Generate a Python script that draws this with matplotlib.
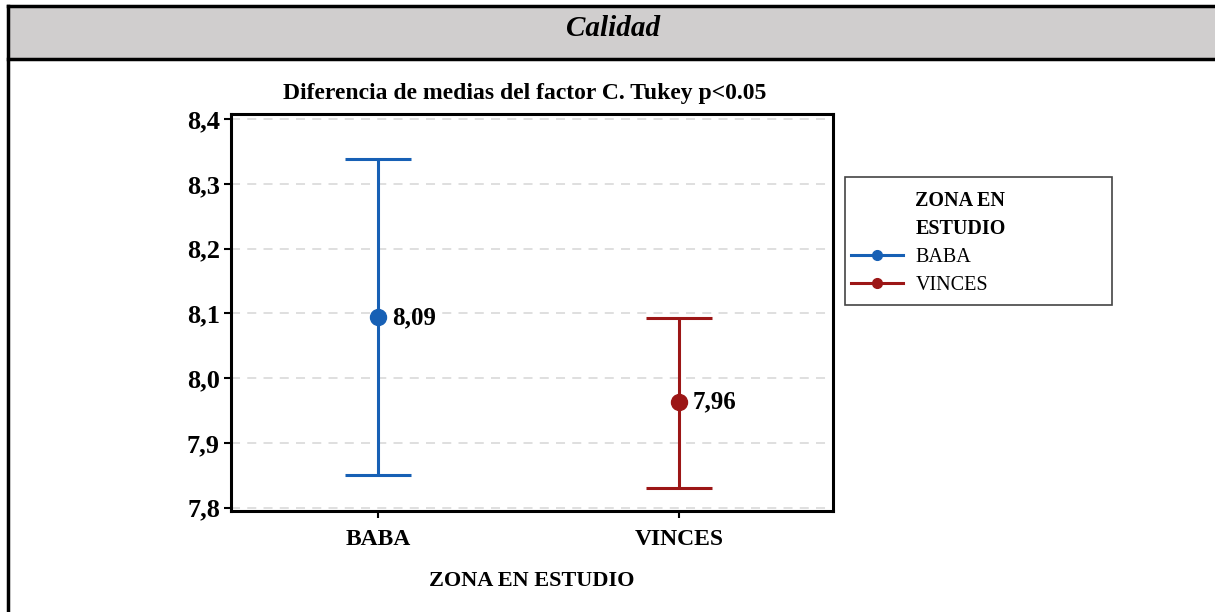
import matplotlib
matplotlib.use("Agg")
import matplotlib.pyplot as plt
from matplotlib.patches import Rectangle
from matplotlib.lines import Line2D
from matplotlib.ticker import FuncFormatter

plt.rcParams['font.family'] = ['Liberation Serif', 'DejaVu Serif']

# datos
zonas = ["BABA", "VINCES"]
medias = [8.094, 7.963]
lim_inf = [7.851, 7.831]
lim_sup = [8.338, 8.093]
colores = ["#1760b5", "#9c1616"]
yticks = [7.8, 7.9, 8.0, 8.1, 8.2, 8.3, 8.4]

fig = plt.figure(figsize=(12.15, 6.12), dpi=100)

# cabecera tipo tabla
W, H = 1215.0, 612.0
fig.patches.append(Rectangle((8/W, 1-59/H), 1-8/W, 53/H, transform=fig.transFigure,
                             facecolor="#d0cece", edgecolor="none", zorder=0))
fig.add_artist(Line2D([8/W, 1], [1-6/H, 1-6/H], color="black", lw=2.5))
fig.add_artist(Line2D([8/W, 1], [1-59/H, 1-59/H], color="black", lw=2.5))
fig.add_artist(Line2D([8/W, 8/W], [0, 1-6/H], color="black", lw=2.5))
fig.text(613/W, 1-29/H, "Calidad", ha="center", va="center", fontsize=21,
         fontweight="bold", fontstyle="italic")

ax = fig.add_axes([231/W, 1-511/H, 602/W, 397/H])
x = list(range(len(zonas)))
for i in x:
    ax.errorbar(i, medias[i],
                yerr=[[medias[i]-lim_inf[i]], [lim_sup[i]-medias[i]]],
                fmt="o", color=colores[i], ms=11.5, lw=2.2, capsize=24,
                capthick=2.2, zorder=3)
    ax.text(i+0.045, medias[i], ("%.2f" % medias[i]).replace(".", ","),
            ha="left", va="center", fontsize=18, fontweight="bold")

ax.set_xlim(-0.49, 1.51)
ax.set_ylim(7.795, 8.408)
ax.set_xticks(x)
ax.set_xticklabels(zonas, fontsize=17, fontweight="bold")
ax.set_yticks(yticks)
ax.yaxis.set_major_formatter(FuncFormatter(lambda v, p: ("%.1f" % v).replace(".", ",")))
for t in ax.get_yticklabels():
    t.set_fontsize(19)
    t.set_fontweight("bold")
ax.tick_params(axis="both", length=5, width=1.5, color="black")
ax.tick_params(axis="x", pad=8)
ax.tick_params(axis="y", pad=3)
ax.yaxis.grid(True, linestyle=(0, (5, 4)), color="#dcdcdc", lw=1.3)
ax.set_axisbelow(True)
for s in ax.spines.values():
    s.set_linewidth(2.2)
ax.set_title("Diferencia de medias del factor C. Tukey p<0.05", fontsize=17,
             fontweight="bold", pad=11, x=0.488)
ax.set_xlabel("ZONA EN ESTUDIO", fontsize=16, fontweight="bold", labelpad=15)

# leyenda: marco dibujado aparte, mas ancho que el contenido
fig.patches.append(Rectangle((845/W, 1-305/H), 267/W, 128/H, transform=fig.transFigure,
                             facecolor="white", edgecolor="#444444", lw=1.2, zorder=1))
handles = [Line2D([], [], linestyle="none"), Line2D([], [], linestyle="none")]
labels = ["ZONA EN", "ESTUDIO"]
for i in x:
    handles.append(Line2D([], [], color=colores[i], marker="o", ms=7, lw=2.2))
    labels.append(zonas[i])
leg = fig.legend(handles, labels, loc="upper left",
                 bbox_to_anchor=(851/W, 1-191/H), fontsize=14.5,
                 frameon=False, handlelength=2.6, handletextpad=0.6,
                 labelspacing=0.42, borderpad=0, borderaxespad=0)
leg.set_zorder(2)
for t in leg.get_texts()[:2]:
    t.set_fontweight("bold")

fig.savefig("out.png", dpi=100, facecolor="white")
